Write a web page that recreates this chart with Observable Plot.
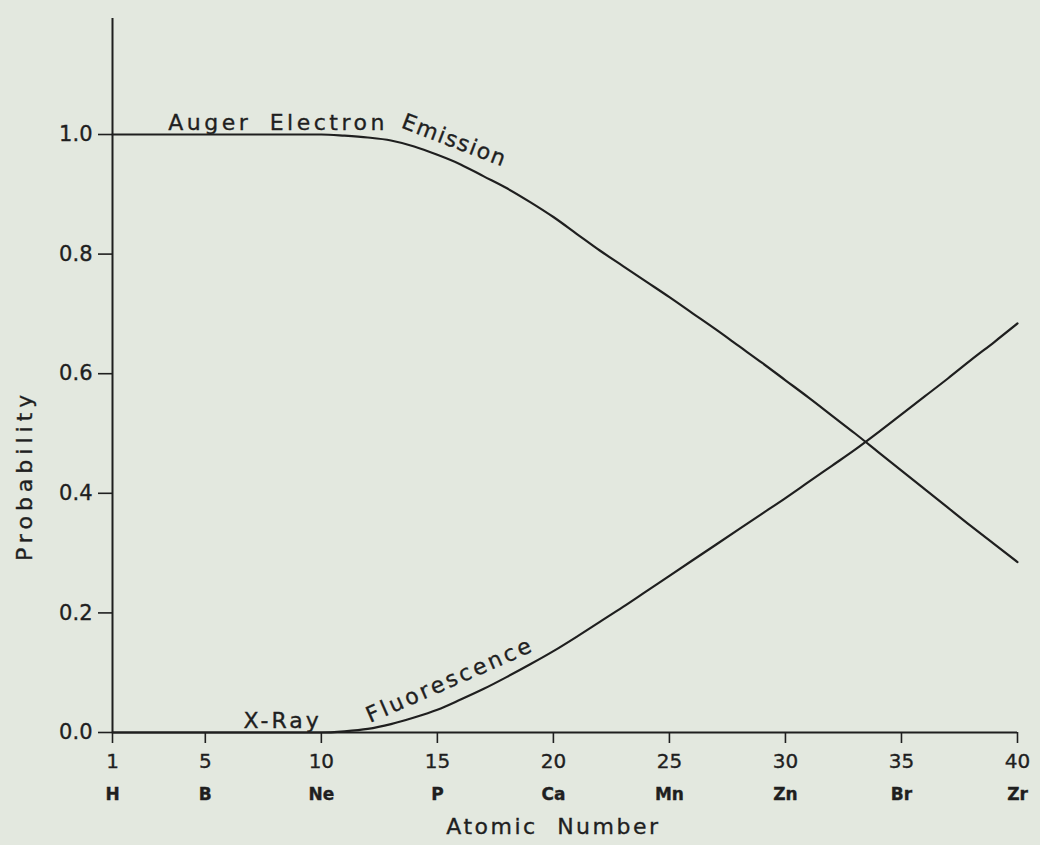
<!DOCTYPE html>
<html>
<head>
<meta charset="utf-8">
<script src="https://cdn.jsdelivr.net/npm/d3@7"></script>
<script src="https://cdn.jsdelivr.net/npm/@observablehq/plot@0.6"></script>
<style>
  html, body { margin: 0; padding: 0; background: #e3e8df; }
  #chart svg { display: block; }
</style>
</head>
<body>
<div id="chart"></div>
<script>
// ---- data ----
const atomicNumber = [1,2,3,4,5,6,7,8,9,10,11,12,13,14,15,16,17,18,19,20,21,22,23,24,25,26,27,28,29,30,31,32,33,34,35,36,37,38,39,40];
const augerProb = [1.0,1.0,1.0,1.0,1.0,1.0,1.0,1.0,1.0,1.0,0.998,0.995,0.99,0.98,0.966,0.95,0.93,0.91,0.887,0.862,0.834,0.806,0.780,0.754,0.728,0.701,0.674,0.646,0.618,0.589,0.560,0.530,0.500,0.469,0.438,0.407,0.376,0.345,0.315,0.285];
const fluorProb = [0,0,0,0,0,0,0,0,0,0,0.002,0.006,0.014,0.025,0.038,0.055,0.073,0.093,0.114,0.136,0.160,0.185,0.210,0.236,0.262,0.288,0.314,0.340,0.366,0.392,0.419,0.446,0.473,0.502,0.532,0.562,0.592,0.623,0.653,0.684];
const xTicks = [1,5,10,15,20,25,30,35,40];
const elementLabels = ["H","B","Ne","P","Ca","Mn","Zn","Br","Zr"];
const yTicks = [0,0.2,0.4,0.6,0.8,1.0];
const yTickLabels = ["0.0","0.2","0.4","0.6","0.8","1.0"];
const seriesNames = ["Auger Electron Emission","X-Ray Fluorescence"];

const rows = [];
atomicNumber.forEach((z, i) => {
  rows.push({series: seriesNames[0], z, p: augerProb[i]});
  rows.push({series: seriesNames[1], z, p: fluorProb[i]});
});

const ink = "#1f1f1f";
const font = "'DejaVu Sans', sans-serif";

const chart = Plot.plot({
  width: 1040,
  height: 845,
  marginLeft: 112,
  marginRight: 23,
  marginTop: 18,
  marginBottom: 113,
  style: {background: "#e3e8df", color: ink, fontFamily: font},
  x: {domain: [1, 40]},
  y: {domain: [0, 1.194]},
  marks: [
    // axis lines
    Plot.ruleY([0], {stroke: ink, strokeWidth: 2}),
    Plot.ruleX([1], {y1: 0, y2: 1.194, stroke: ink, strokeWidth: 2}),
    // x axis: numbers
    Plot.axisX({ticks: xTicks, tickSize: 11, tickPadding: 10, fontSize: 20, label: null, stroke: ink, strokeWidth: 1.6, fill: ink}),
    // x axis: element symbols
    Plot.axisX({ticks: xTicks, tickSize: 0, tickPadding: 55, fontSize: 17, fontWeight: "bold", label: null, fill: ink,
      tickFormat: d => elementLabels[xTicks.indexOf(d)]}),
    // y axis
    Plot.axisY({ticks: yTicks, tickSize: 14, tickPadding: 6, fontSize: 21, label: null, stroke: ink, strokeWidth: 1.6, fill: ink,
      tickFormat: d => yTickLabels[yTicks.indexOf(d)]}),
    // axis titles
    Plot.text(["Atomic Number"], {x: 20, frameAnchor: "bottom", dy: 101, fontSize: 22, fill: ink}),
    Plot.text(["Probability"], {y: 0.43, frameAnchor: "left", textAnchor: "middle", dx: -88, rotate: -90, fontSize: 22, fill: ink}),
    // curves
    Plot.line(rows, {x: "z", y: "p", z: "series", curve: "monotone-x", stroke: ink, strokeWidth: 2.2}),
    // curve labels
    Plot.text(["Auger Electron"], {x: 3.4, y: 1.007, textAnchor: "start", lineAnchor: "bottom", fontSize: 22, fill: ink}),
    Plot.text(["Emission"], {x: 13.4, y: 1.012, textAnchor: "start", lineAnchor: "bottom", rotate: 21, fontSize: 22, fill: ink}),
    Plot.text(["X-Ray"], {x: 6.65, y: 0.008, textAnchor: "start", lineAnchor: "bottom", fontSize: 22, fill: ink}),
    Plot.text(["Fluorescence"], {x: 12.1, y: 0.016, textAnchor: "start", lineAnchor: "bottom", rotate: -23.7, fontSize: 22, fill: ink})
  ]
});

// letter spacing to mimic the hand-lettered look
const spacing = {
  "Atomic Number": ["2.5px", "10px"],
  "Probability": ["5px", "0px"],
  "Auger Electron": ["3.5px", "8px"],
  "Emission": ["1.6px", "0px"],
  "X-Ray": ["3px", "0px"],
  "Fluorescence": ["3px", "0px"]
};
d3.select(chart).selectAll("text").each(function() {
  const s = spacing[this.textContent];
  if (s) d3.select(this).style("letter-spacing", s[0]).style("word-spacing", s[1]);
  // slightly heavier strokes, like the inked lettering
  d3.select(this).style("stroke", ink).style("stroke-width", "0.35px");
});

document.getElementById("chart").appendChild(chart);
</script>
</body>
</html>
